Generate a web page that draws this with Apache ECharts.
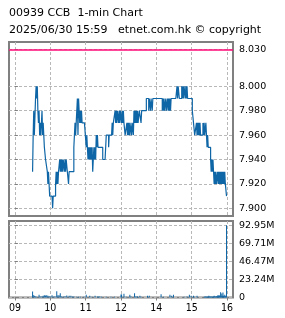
<!DOCTYPE html>
<html>
<head>
<meta charset="utf-8">
<script src="https://cdn.jsdelivr.net/npm/echarts@6/dist/echarts.min.js"></script>
<style>
  html, body { margin: 0; padding: 0; background: #fff; }
  #container { width: 285px; height: 318px; }
</style>
</head>
<body>
<div id="container"></div>
<script>
var dom = document.getElementById("container");
var myChart = echarts.init(dom, null, { renderer: "canvas" });
var option;

// minutes after 09:00, lunch hour (12:00-13:00) squeezed out
const hourTicks = [0, 60, 120, 180, 240, 300, 360];
const hourLabels = ["09", "10", "11", "12", "14", "15", "16"];
const priceTicks = [7.9, 7.92, 7.94, 7.96, 7.98, 8.0, 8.03];
const volumeTicks = [0, 23.24, 46.47, 69.71, 92.95];
const prevClose = 8.03;

// 09:30 - 11:59, one close per minute
const amPrices = [
  7.93, 7.96, 7.98, 7.96, 7.96, 7.99, 8.00, 7.99, 8.00, 7.98,
  7.97, 7.98, 7.96, 7.97, 7.96, 7.97, 7.98, 7.96, 7.97, 7.96,
  7.95, 7.95, 7.94, 7.94, 7.94, 7.93, 7.92, 7.93, 7.92, 7.91,
  7.91, 7.91, 7.91, 7.91, 7.90, 7.91, 7.91, 7.91, 7.91, 7.92,
  7.93, 7.92, 7.93, 7.92, 7.93, 7.93, 7.94, 7.93, 7.94, 7.93,
  7.94, 7.93, 7.94, 7.94, 7.93, 7.94, 7.93, 7.94, 7.94, 7.93,
  7.93, 7.92, 7.93, 7.93, 7.93, 7.93, 7.93, 7.93, 7.93, 7.93,
  7.95, 7.96, 7.97, 7.96, 7.97, 7.98, 7.99, 7.96, 7.99, 7.98,
  7.97, 7.98, 7.97, 7.98, 7.97, 7.97, 7.97, 7.97, 7.97, 7.97,
  7.97, 7.95, 7.96, 7.95, 7.94, 7.95, 7.94, 7.95, 7.94, 7.95,
  7.94, 7.95, 7.93, 7.94, 7.95, 7.94, 7.95, 7.94, 7.96, 7.95,
  7.96, 7.95, 7.95, 7.95, 7.95, 7.95, 7.95, 7.95, 7.95, 7.94,
  7.94, 7.94, 7.94, 7.94, 7.94, 7.96, 7.96, 7.96, 7.96, 7.95,
  7.96, 7.96, 7.96, 7.96, 7.96, 7.97, 7.96, 7.97, 7.97, 7.97,
  7.98, 7.97, 7.98, 7.97, 7.98, 7.98, 7.97, 7.98, 7.97, 7.98
];
// 13:00 - 15:59
const pmPrices = [
  7.98, 7.97, 7.98, 7.97, 7.98, 7.97, 7.97, 7.96, 7.96, 7.96,
  7.97, 7.96, 7.97, 7.96, 7.97, 7.96, 7.96, 7.97, 7.96, 7.96,
  7.97, 7.96, 7.98, 7.97, 7.98, 7.97, 7.98, 7.97, 7.98, 7.97,
  7.97, 7.98, 7.98, 7.98, 7.97, 7.98, 7.98, 7.98, 7.98, 7.98,
  7.98, 7.98, 7.98, 7.99, 7.99, 7.99, 7.99, 7.98, 7.99, 7.99,
  7.98, 7.99, 7.99, 7.98, 7.99, 7.99, 7.99, 7.99, 7.99, 7.99,
  7.99, 7.99, 7.99, 7.99, 7.99, 7.99, 7.99, 7.99, 7.99, 7.99,
  7.98, 7.99, 7.98, 7.99, 7.98, 7.98, 7.99, 7.98, 7.98, 7.99,
  7.98, 7.99, 7.98, 7.99, 7.98, 7.99, 7.99, 7.99, 7.99, 7.99,
  7.99, 7.99, 7.99, 7.99, 7.99, 8.00, 7.99, 8.00, 8.00, 7.99,
  7.99, 7.99, 7.99, 8.00, 7.99, 8.00, 7.99, 8.00, 8.00, 7.99,
  8.00, 7.99, 8.00, 7.99, 7.99, 7.99, 7.99, 7.99, 7.99, 7.99,
  7.99, 7.98, 7.98, 7.97, 7.97, 7.96, 7.96, 7.96, 7.97, 7.96,
  7.97, 7.96, 7.97, 7.96, 7.97, 7.96, 7.96, 7.96, 7.96, 7.97,
  7.96, 7.97, 7.96, 7.96, 7.97, 7.96, 7.95, 7.96, 7.95, 7.95,
  7.95, 7.95, 7.94, 7.93, 7.94, 7.93, 7.94, 7.93, 7.92, 7.93,
  7.92, 7.93, 7.92, 7.92, 7.93, 7.92, 7.93, 7.92, 7.93, 7.92,
  7.93, 7.92, 7.93, 7.92, 7.93, 7.92, 7.93, 7.92, 7.92, 7.91
];

// volume (millions of shares), only the minutes that show a bar
const volMinutes = [
  30, 31, 33, 35, 37, 41, 43, 46, 48, 50, 52, 54, 56, 58, 60, 63, 66, 68,
  71, 73, 75, 77, 79, 82, 85, 88, 92, 95, 98, 100, 105, 108, 111, 117, 121,
  127, 131, 136, 140, 142, 144, 147, 155, 163, 169,
  180, 181, 185, 189, 195, 197, 203, 205, 207, 208, 212, 214, 225, 228,
  248, 252, 263, 266, 269, 287, 292, 296, 299, 303, 305, 309,
  321, 322, 323, 324, 325, 326, 327, 328, 329, 330, 331, 332, 333, 334,
  335, 336, 337, 338, 339, 340, 341, 342, 343, 344, 345, 346, 347, 348,
  349, 350, 351, 352, 353, 354, 355, 356, 357, 358, 359
];
const volValues = [
  7.7, 3.2, 2.1, 1.3, 1.0, 3.4, 1.3, 1.7, 2.1, 3.0, 2.6, 3.0, 2.1, 1.7, 1.3, 3.0, 1.3, 1.3,
  8.1, 3.0, 3.0, 5.6, 1.3, 1.3, 1.7, 2.6, 2.1, 2.1, 1.3, 1.3, 0.9, 0.9, 0.9, 0.9, 3.4,
  2.1, 0.9, 2.1, 1.3, 1.3, 1.3, 0.9, 0.9, 0.9, 0.9,
  3.9, 3.9, 4.7, 0.9, 3.4, 1.3, 5.6, 1.3, 1.3, 1.3, 2.1, 0.9, 2.1, 2.1,
  4.3, 0.9, 3.4, 2.1, 3.4, 0.9, 1.3, 3.4, 2.1, 2.1, 0.9, 2.1,
  1.0, 1.0, 1.3, 1.0, 1.0, 1.3, 1.0, 1.3, 2.1, 1.3, 1.0, 1.3, 1.0, 1.3,
  1.0, 1.3, 1.3, 2.1, 1.3, 1.3, 1.3, 1.7, 1.3, 2.6, 2.6, 2.6, 2.6, 1.7,
  6.8, 2.1, 5.1, 2.1, 6.4, 2.1, 1.7, 3.4, 1.7, 2.1, 92.95
];

const blue = "#0f66a6";
const frame = "#808080";
const gridColor = "#b8b8b8";

const priceData = amPrices
  .map(function (p, i) { return [30 + i, p]; })
  .concat(pmPrices.map(function (p, i) { return [180 + i, p]; }));
const volData = volMinutes.map(function (t, i) { return [t, volValues[i]]; });

const font = "DejaVu Sans";
const narrow = "'Liberation Sans Narrow', 'DejaVu Sans Condensed', 'Liberation Sans', sans-serif";

function timeAxis(gridIndex, showLabels) {
  return {
    type: "value",
    gridIndex: gridIndex,
    min: -10,
    max: 370,
    axisLine: { show: false },
    axisTick: {
      show: showLabels,
      customValues: hourTicks,
      length: 3,
      lineStyle: { color: frame },
    },
    axisLabel: {
      show: showLabels,
      customValues: hourTicks,
      margin: 5,
      color: "#000",
      fontFamily: narrow,
      fontSize: 10.5,
      formatter: function (v) {
        return hourLabels[hourTicks.indexOf(v)];
      },
    },
    splitLine: {
      show: true,
      lineStyle: { color: gridColor, type: [3, 2], width: 1 },
    },
  };
}

function rightAxis(gridIndex, min, max, ticks, fmt) {
  return {
    type: "value",
    gridIndex: gridIndex,
    position: "right",
    min: min,
    max: max,
    axisLine: { show: false },
    axisTick: { show: true, customValues: ticks, length: 3, lineStyle: { color: frame } },
    axisLabel: {
      customValues: ticks,
      margin: 6,
      color: "#000",
      fontFamily: font,
      fontSize: 9.5,
      formatter: fmt,
    },
    splitLine: { show: true, lineStyle: { color: gridColor, type: [3, 2], width: 1 } },
  };
}

option = {
  animation: false,
  backgroundColor: "#fff",
  title: {
    text: "00939 CCB  1-min Chart\n2025/06/30 15:59   etnet.com.hk \u00a9 copyright",
    left: 9,
    top: 4,
    padding: 0,
    textStyle: {
      fontFamily: font,
      fontSize: 11,
      fontWeight: "normal",
      color: "#000",
      lineHeight: 17.5,
    },
  },
  grid: [
    { left: 9, right: 52, top: 42, height: 174, show: true, borderColor: frame, borderWidth: 2, backgroundColor: "transparent" },
    { left: 9, right: 52, top: 221, height: 76.5, show: true, borderColor: frame, borderWidth: 2, backgroundColor: "transparent" },
  ],
  xAxis: [timeAxis(0, false), timeAxis(1, true)],
  yAxis: [
    rightAxis(0, 7.8937, 8.0363, priceTicks, function (v) { return v.toFixed(3); }),
    rightAxis(1, 0, 98.5, volumeTicks, function (v) { return v === 0 ? "0" : v.toFixed(2) + "M"; }),
  ],
  series: [
    {
      type: "line",
      xAxisIndex: 0,
      yAxisIndex: 0,
      step: "end",
      data: priceData,
      showSymbol: false,
      lineStyle: { color: blue, width: 1.2 },
      markLine: {
        silent: true,
        symbol: "none",
        label: { show: false },
        lineStyle: { color: "#ff0a78", type: "solid", width: 1.5 },
        data: [{ yAxis: prevClose }],
      },
      z: 3,
    },
    {
      type: "bar",
      xAxisIndex: 1,
      yAxisIndex: 1,
      data: volData,
      barWidth: 1,
      itemStyle: { color: blue },
    },
  ],
};

myChart.setOption(option);

window.addEventListener("resize", myChart.resize);
</script>
</body>
</html>
